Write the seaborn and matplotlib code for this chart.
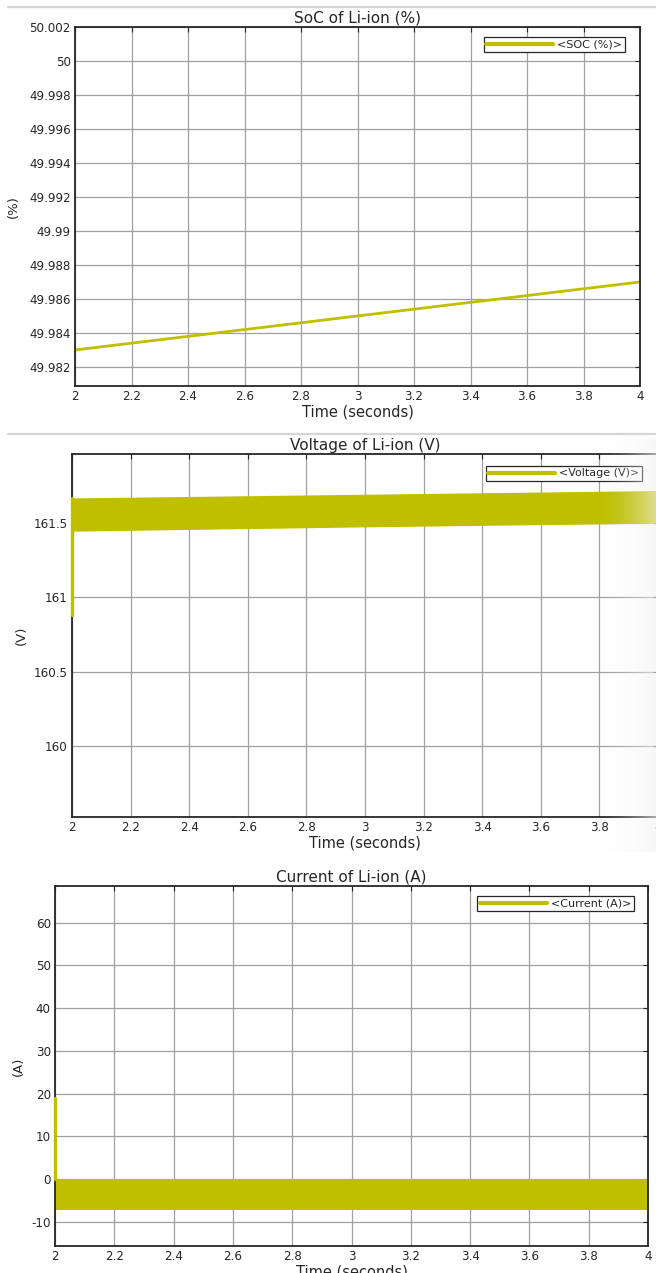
import matplotlib
matplotlib.use("Agg")
import matplotlib.pyplot as plt
import numpy as np
import seaborn as sns
from matplotlib.lines import Line2D

# ---- data -------------------------------------------------------------
time_ticks = [2.0, 2.2, 2.4, 2.6, 2.8, 3.0, 3.2, 3.4, 3.6, 3.8, 4.0]

# state of charge (%)
soc_time = [2.0, 2.5, 3.0, 3.5, 4.0]
soc_value = [49.9830, 49.9840, 49.9850, 49.9860, 49.9870]
soc_ticks = [49.982, 49.984, 49.986, 49.988, 49.990, 49.992,
             49.994, 49.996, 49.998, 50.000, 50.002]

# terminal voltage (V): switching-ripple envelope and start-up step
volt_time = [2.0, 3.0, 4.0]
volt_upper = [161.67, 161.695, 161.72]
volt_lower = [161.446, 161.475, 161.50]
volt_step_time = [2.0, 2.0]
volt_step_value = [160.88, 161.67]
volt_ticks = [160.0, 160.5, 161.0, 161.5]

# battery current (A): ripple envelope and start-up step
curr_time = [2.0, 4.0]
curr_upper = [0.0, 0.0]
curr_lower = [-7.3, -7.3]
curr_step_time = [2.0, 2.0]
curr_step_value = [0.0, 19.0]
curr_ticks = [-10, 0, 10, 20, 30, 40, 50, 60]

# ---- style ------------------------------------------------------------
sns.set_theme(style="whitegrid")
plt.rcParams["font.family"] = ["DejaVu Sans"]

YEL = "#BFBF00"
INK = "#262626"
W, H = 656, 1273

fig = plt.figure(figsize=(W / 100, H / 100), dpi=100)
fig.patch.set_facecolor("white")


def add_ax(left, right, top, bottom):
    return fig.add_axes([left / W, 1 - bottom / H, (right - left) / W, (bottom - top) / H])


def trim(v):
    return f"{v:.3f}".rstrip("0").rstrip(".")


def style(ax, yticks, ylim, title, ylabel, ylab_x):
    ax.set_facecolor("white")
    ax.set_xlim(2, 4)
    ax.set_ylim(*ylim)
    ax.set_xticks(time_ticks)
    ax.set_xticklabels([trim(t) for t in time_ticks])
    ax.set_yticks(yticks)
    ax.set_yticklabels([trim(v) for v in yticks])
    ax.grid(True, color="#a0a0a0", lw=0.9)
    ax.set_axisbelow(True)
    for s in ax.spines.values():
        s.set_visible(True)
        s.set_color(INK)
        s.set_linewidth(1.3)
    ax.tick_params(direction="in", length=3.5, width=0.8, top=True, right=True,
                   labelsize=8.6, colors=INK, pad=3)
    ax.set_title(title, fontsize=11, pad=3, color=INK)
    ax.set_xlabel("Time (seconds)", fontsize=10.5, labelpad=1, color=INK)
    ax.set_ylabel(ylabel, fontsize=9.5, color=INK)
    ax.yaxis.set_label_coords(ylab_x, 0.5)


def legend(ax, text, anchor):
    h = Line2D([], [], color=YEL, lw=3)
    leg = ax.legend([h], [text], loc="upper right", bbox_to_anchor=anchor,
                    frameon=True, fancybox=False, edgecolor=INK, framealpha=1,
                    fontsize=8, handlelength=6, handletextpad=0.4,
                    borderpad=0.22, borderaxespad=0)
    leg.get_frame().set_linewidth(0.9)
    for t in leg.get_texts():
        t.set_color(INK)


# ---- panel 1: state of charge ----------------------------------------
ax1 = add_ax(75, 640, 27, 386)
sns.lineplot(x=soc_time, y=soc_value, ax=ax1, color=YEL, lw=2)
style(ax1, soc_ticks, (49.98088, 50.002), "SoC of Li-ion (%)", "(%)", -0.097)
legend(ax1, "<SOC (%)>", (0.973, 0.972))

# ---- panel 2: voltage ------------------------------------------------
ax2 = add_ax(72, 658, 454, 817)
ax2.fill_between(volt_time, volt_lower, volt_upper, color=YEL, lw=0, zorder=2)
sns.lineplot(x=volt_step_time, y=volt_step_value, ax=ax2, color=YEL, lw=2.4,
             estimator=None, sort=False, zorder=5)
for ln in ax2.lines:
    ln.set_clip_on(False)
style(ax2, volt_ticks, (159.52, 161.966), "Voltage of Li-ion (V)", "(V)", -0.075)
legend(ax2, "<Voltage (V)>", (0.973, 0.967))

# ---- panel 3: current ------------------------------------------------
ax3 = add_ax(55, 648, 886, 1246)
ax3.fill_between(curr_time, curr_lower, curr_upper, color=YEL, lw=0, zorder=2)
sns.lineplot(x=curr_step_time, y=curr_step_value, ax=ax3, color=YEL, lw=2.4,
             estimator=None, sort=False, zorder=5)
for ln in ax3.lines:
    ln.set_clip_on(False)
style(ax3, curr_ticks, (-15.7, 68.6), "Current of Li-ion (A)", "(A)", -0.05)
legend(ax3, "<Current (A)>", (0.976, 0.972))

# ---- window separators -----------------------------------------------
for y in (7, 434):
    fig.add_artist(Line2D([0.012, 1.0], [1 - y / H, 1 - y / H], transform=fig.transFigure,
                          color="#d6d6d6", lw=1.6))

# light fade along the right edge of the voltage window
fade = fig.add_axes([598 / W, 1 - 852 / H, (W - 598) / W, (852 - 438) / H])
grad = np.zeros((1, 64, 4))
grad[..., :3] = 0.95
grad[..., 3] = np.linspace(0, 1, 64) ** 1.6 * 0.6
fade.imshow(grad, aspect="auto", interpolation="bilinear")
fade.set_axis_off()

fig.savefig("out.png", dpi=100, facecolor="white")
